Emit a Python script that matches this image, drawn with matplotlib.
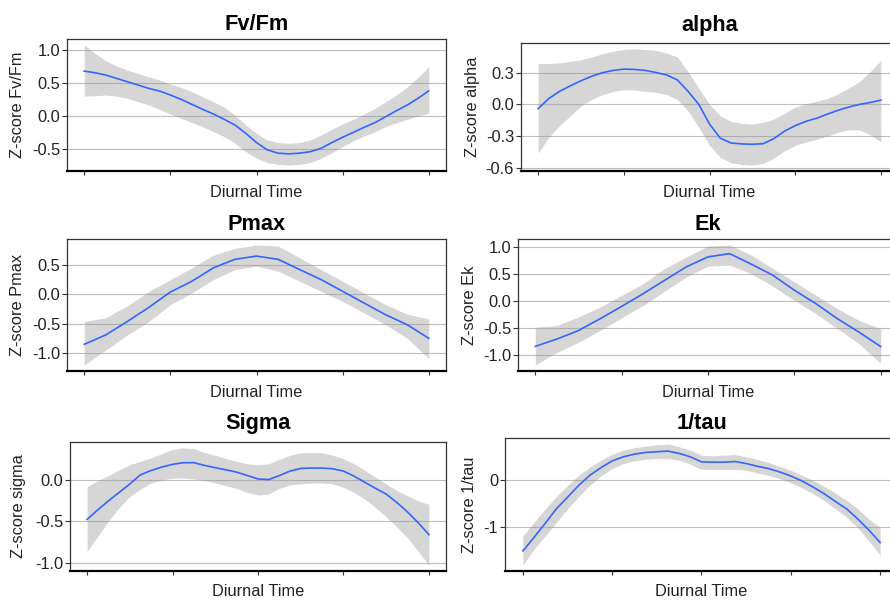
import matplotlib
matplotlib.use("Agg")
import matplotlib.pyplot as plt

plt.rcParams['font.family'] = ['Liberation Sans', 'DejaVu Sans']
plt.rcParams['axes.unicode_minus'] = False

# positions along the diurnal axis (ticks sit at 0..4)
t_fine = [0, 0.125, 0.25, 0.375, 0.5, 0.625, 0.75, 0.875, 1,
          1.125, 1.25, 1.375, 1.5, 1.625, 1.75, 1.875, 2,
          2.125, 2.25, 2.375, 2.5, 2.625, 2.75, 2.875, 3,
          3.125, 3.25, 3.375, 3.5, 3.625, 3.75, 3.875, 4]
t_coarse = [0, 0.25, 0.5, 0.75, 1, 1.25, 1.5, 1.75, 2,
            2.25, 2.5, 2.75, 3, 3.25, 3.5, 3.75, 4]

# smoothed z-scores with their confidence bands
fvfm_fit = [0.677, 0.652, 0.617, 0.567, 0.517, 0.467, 0.416, 0.376, 0.316,
            0.251, 0.176, 0.10, 0.03, -0.05, -0.135, -0.26, -0.40,
            -0.51, -0.56, -0.57, -0.56, -0.537, -0.487, -0.40, -0.32,
            -0.246, -0.17, -0.10, -0.01, 0.08, 0.166, 0.266, 0.38]
fvfm_lo = [0.30, 0.306, 0.316, 0.30, 0.266, 0.216, 0.166, 0.10, 0.03,
           -0.035, -0.10, -0.16, -0.236, -0.311, -0.411, -0.537, -0.637,
           -0.702, -0.728, -0.738, -0.728, -0.702, -0.637, -0.552, -0.462,
           -0.371, -0.30, -0.236, -0.16, -0.10, -0.05, 0.0, 0.04]
fvfm_hi = [1.07, 0.943, 0.833, 0.753, 0.692, 0.642, 0.592, 0.542, 0.482,
           0.431, 0.366, 0.291, 0.216, 0.13, 0.015, -0.135, -0.26,
           -0.361, -0.40, -0.41, -0.40, -0.361, -0.286, -0.20, -0.12,
           -0.05, 0.03, 0.115, 0.216, 0.316, 0.44, 0.582, 0.743]

alpha_fit = [-0.04, 0.055, 0.123, 0.175, 0.222, 0.265, 0.298, 0.32, 0.332,
             0.329, 0.32, 0.30, 0.277, 0.23, 0.123, 0.0, -0.185,
             -0.317, -0.363, -0.372, -0.375, -0.37, -0.323, -0.252, -0.20,
             -0.16, -0.13, -0.092, -0.055, -0.025, 0.0, 0.018, 0.04]
alpha_lo = [-0.46, -0.308, -0.20, -0.108, -0.015, 0.046, 0.092, 0.123, 0.138,
            0.135, 0.123, 0.114, 0.092, 0.046, -0.062, -0.215, -0.385,
            -0.498, -0.548, -0.566, -0.572, -0.554, -0.508, -0.437, -0.385,
            -0.354, -0.33, -0.298, -0.262, -0.24, -0.24, -0.286, -0.354]
alpha_hi = [0.385, 0.385, 0.39, 0.406, 0.42, 0.446, 0.477, 0.50, 0.517,
            0.523, 0.517, 0.508, 0.483, 0.446, 0.308, 0.154, 0.0,
            -0.108, -0.16, -0.178, -0.185, -0.17, -0.138, -0.083, -0.025,
            0.006, 0.031, 0.055, 0.098, 0.154, 0.215, 0.308, 0.415]

pmax_fit = [-0.856, -0.695, -0.465, -0.224, 0.04, 0.224, 0.454, 0.60, 0.655,
            0.60, 0.425, 0.253, 0.052, -0.15, -0.35, -0.52, -0.753]
pmax_lo = [-1.21, -0.954, -0.695, -0.465, -0.178, 0.023, 0.253, 0.425, 0.483,
           0.397, 0.224, 0.052, -0.12, -0.32, -0.52, -0.753, -1.10]
pmax_hi = [-0.465, -0.40, -0.195, 0.05, 0.253, 0.454, 0.672, 0.787, 0.845,
           0.828, 0.626, 0.425, 0.224, 0.023, -0.178, -0.34, -0.42]

ek_fit = [-0.845, -0.71, -0.553, -0.335, -0.106, 0.13, 0.38, 0.627, 0.81,
          0.87, 0.677, 0.472, 0.193, -0.056, -0.335, -0.584, -0.85]
ek_lo = [-1.19, -0.957, -0.77, -0.553, -0.317, -0.087, 0.18, 0.44, 0.64,
         0.658, 0.50, 0.267, 0.006, -0.24, -0.52, -0.80, -1.16]
ek_hi = [-0.49, -0.46, -0.30, -0.118, 0.10, 0.317, 0.596, 0.81, 1.01,
         1.03, 0.845, 0.596, 0.348, 0.10, -0.15, -0.366, -0.52]

sigma_fit = [-0.475, -0.36, -0.25, -0.148, -0.045, 0.066, 0.119, 0.16, 0.193,
             0.213, 0.213, 0.18, 0.152, 0.127, 0.098, 0.057, 0.016,
             0.008, 0.057, 0.111, 0.143, 0.148, 0.148, 0.139, 0.111,
             0.049, -0.025, -0.098, -0.168, -0.27, -0.385, -0.516, -0.66]
sigma_lo = [-0.865, -0.68, -0.496, -0.332, -0.197, -0.107, -0.033, 0.004, 0.025,
            0.029, 0.016, -0.004, -0.033, -0.066, -0.098, -0.148, -0.18,
            -0.168, -0.098, -0.057, -0.045, -0.033, -0.033, -0.045, -0.086,
            -0.148, -0.23, -0.332, -0.443, -0.566, -0.70, -0.865, -1.03]
sigma_hi = [-0.078, -0.004, 0.057, 0.127, 0.189, 0.23, 0.27, 0.324, 0.373,
            0.393, 0.385, 0.336, 0.303, 0.262, 0.23, 0.20, 0.189,
            0.20, 0.254, 0.303, 0.332, 0.336, 0.332, 0.303, 0.262,
            0.20, 0.119, 0.037, -0.045, -0.127, -0.189, -0.25, -0.291]

tau_fit = [-1.51, -1.22, -0.92, -0.61, -0.36, -0.108, 0.108, 0.273, 0.417,
           0.504, 0.561, 0.597, 0.612, 0.626, 0.576, 0.504, 0.396,
           0.388, 0.388, 0.403, 0.36, 0.302, 0.252, 0.18, 0.094,
           -0.014, -0.144, -0.288, -0.453, -0.61, -0.827, -1.065, -1.33]
tau_lo = [-1.81, -1.475, -1.19, -0.90, -0.61, -0.345, -0.108, 0.094, 0.252,
          0.36, 0.417, 0.453, 0.468, 0.468, 0.432, 0.345, 0.237,
          0.23, 0.23, 0.237, 0.216, 0.158, 0.108, 0.036, -0.05,
          -0.158, -0.288, -0.432, -0.61, -0.79, -1.02, -1.295, -1.60]
tau_hi = [-1.19, -0.90, -0.61, -0.345, -0.108, 0.108, 0.288, 0.432, 0.561,
          0.647, 0.698, 0.734, 0.763, 0.777, 0.72, 0.647, 0.54,
          0.525, 0.54, 0.554, 0.504, 0.446, 0.381, 0.302, 0.216,
          0.108, 0.0, -0.13, -0.273, -0.432, -0.61, -0.827, -1.007]

titles = ['Fv/Fm', 'alpha', 'Pmax', 'Ek', 'Sigma', '1/tau']
ylabels = ['Z-score Fv/Fm', 'Z-score alpha', 'Z-score Pmax',
           'Z-score Ek', 'Z-score sigma', 'Z-score 1/tau']
yticks = [[-0.5, 0.0, 0.5, 1.0], [-0.6, -0.3, 0.0, 0.3], [-1.0, -0.5, 0.0, 0.5],
          [-1.0, -0.5, 0.0, 0.5, 1.0], [-1.0, -0.5, 0.0], [-1, 0]]
ytick_fmt = ['%.1f', '%.1f', '%.1f', '%.1f', '%.1f', '%d']
xs = [t_fine, t_fine, t_coarse, t_coarse, t_fine, t_fine]
fits = [fvfm_fit, alpha_fit, pmax_fit, ek_fit, sigma_fit, tau_fit]
lows = [fvfm_lo, alpha_lo, pmax_lo, ek_lo, sigma_lo, tau_lo]
highs = [fvfm_hi, alpha_hi, pmax_hi, ek_hi, sigma_hi, tau_hi]

W, H = 890, 601
# panel boxes in pixels: left, top, right, bottom (right column runs off the page)
boxes = [(67, 39, 446, 171), (521, 43, 898, 171),
         (67, 239, 446, 371), (518, 239, 898, 371),
         (70, 442, 446, 571), (505, 438, 898, 571)]
title_y = [30.5, 30.5, 230, 230, 429, 429]
xlab_y = [197, 197, 397, 397, 596, 596]
ylab_x = [18, 472, 18, 470, 19, 470]

TXT = '#222222'
fig = plt.figure(figsize=(W / 100, H / 100), dpi=100)

for i in range(6):
    l, t, r, b = boxes[i]
    ax = fig.add_axes([l / W, (H - b) / H, (r - l) / W, (b - t) / H])
    ax.fill_between(xs[i], lows[i], highs[i], color='#999999', alpha=0.4,
                    linewidth=0, zorder=2)
    ax.plot(xs[i], fits[i], color='#3366FF', lw=1.2, zorder=3)
    ax.margins(x=0.05, y=0.05)

    ax.set_yticks(yticks[i])
    ax.set_yticklabels([ytick_fmt[i] % v for v in yticks[i]])
    ax.set_xticks([0, 1, 2, 3, 4])
    ax.set_xticklabels([])
    ax.yaxis.grid(True, color='#bdbdbd', lw=0.8)
    ax.set_axisbelow(True)
    ax.tick_params(axis='y', length=3.5, width=0.8, pad=1.5, color='#333333',
                   labelsize=11.8, labelcolor=TXT)
    ax.tick_params(axis='x', length=3, width=0.8, color='#333333')

    for side in ['top', 'left', 'right']:
        ax.spines[side].set_color('#333333')
        ax.spines[side].set_linewidth(0.9)
    ax.spines['bottom'].set_color('black')
    ax.spines['bottom'].set_linewidth(1.6)

    cx = (l + r) / 2
    fig.text(cx / W, 1 - title_y[i] / H, titles[i], ha='center', va='baseline',
             fontsize=15.7, fontweight='bold', color='black')
    fig.text(cx / W, 1 - xlab_y[i] / H, 'Diurnal Time', ha='center',
             va='baseline', fontsize=11.8, color=TXT)
    fig.text(ylab_x[i] / W, 1 - ((t + b) / 2) / H, ylabels[i], ha='center',
             va='center', rotation=90, fontsize=11.8, color=TXT)

fig.savefig('out.png', dpi=100)
plt.close(fig)
